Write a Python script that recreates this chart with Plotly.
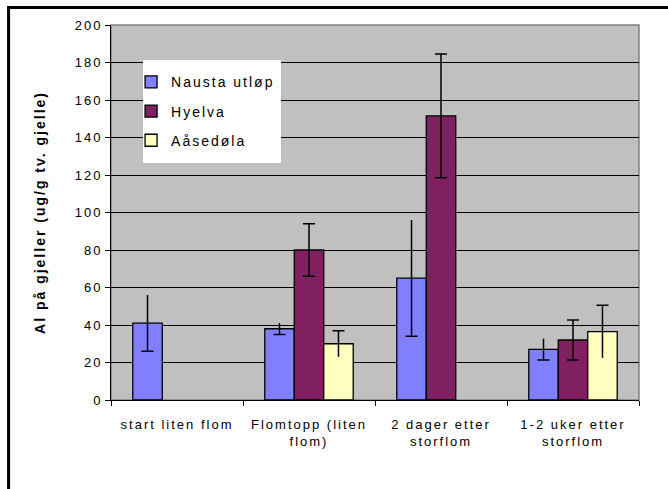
import plotly.graph_objects as go

# categories (x axis) and series values
categories = ['start liten flom', 'Flomtopp (liten<br>flom)', '2 dager etter<br>storflom', '1-2 uker etter<br>storflom']

nausta = [41, 38, 65, 27]
nausta_err = [15, 3, 31, 5.7]

hyelva = [None, 80, 151.5, 32]
hyelva_err = [None, 14, 33, 10.7]

aasedola = [None, 30, None, 36.5]
aasedola_err = [None, 7, None, 14]

series_names = ['Nausta utløp', 'Hyelva', 'Aåsedøla']
colors = ['#8080FF', '#802060', '#FFFFC0']

fig = go.Figure()

# main bars
for i, (name, vals, errs) in enumerate(zip(series_names, [nausta, hyelva, aasedola],
                                           [nausta_err, hyelva_err, aasedola_err])):
    fig.add_trace(go.Bar(
        x=categories, y=vals, name=name,
        offsetgroup=str(i), legendgroup=str(i),
        marker=dict(color=colors[i], line=dict(color='black', width=1.3)),
        error_y=dict(type='data', array=errs, visible=True, color='black',
                     thickness=1.5, width=6 if i == 1 else 0),
    ))

# caps: Nausta only at the lower end, Aåsedøla only at the upper end (as in the original)
low_caps = [None if v is None else v - e for v, e in zip(nausta, nausta_err)]
high_caps = [None if v is None else v + e for v, e in zip(aasedola, aasedola_err)]
for grp, caps in [('0', low_caps), ('2', high_caps)]:
    fig.add_trace(go.Bar(
        x=categories, y=caps, offsetgroup=grp, showlegend=False, hoverinfo='skip',
        marker=dict(color='rgba(0,0,0,0)', line=dict(width=0)),
        error_y=dict(type='data', array=[0] * len(caps), visible=True, color='black',
                     thickness=1.5, width=6),
    ))

fig.update_layout(
    width=668, height=489, autosize=False,
    margin=dict(l=111, r=29, t=25, b=89),
    paper_bgcolor='white',
    plot_bgcolor='#C0C0C0',
    barmode='group', bargap=0.33, bargroupgap=0,
    font=dict(family='Liberation Sans, Arial', size=13, color='black'),
    showlegend=True,
    legend=dict(x=0.038, y=0.89, xanchor='left', yanchor='top',
                bgcolor='rgba(0,0,0,0)', font=dict(size=14), tracegroupgap=8),
    shapes=[
        # white legend box
        dict(type='rect', xref='paper', yref='paper', x0=0.0606, x1=0.322, y0=0.632, y1=0.9067,
             fillcolor='white', line=dict(width=0), layer='above'),
        # plot area border
        dict(type='rect', xref='paper', yref='paper', x0=0, x1=1, y0=0, y1=1,
             line=dict(color='#808080', width=1.5), layer='below'),
        # outer chart frame
        dict(type='rect', xref='paper', yref='paper', x0=-0.194, x1=1.2, y0=-0.4, y1=1.0467,
             line=dict(color='black', width=3), fillcolor='rgba(0,0,0,0)'),
    ],
)
fig.update_yaxes(
    range=[0, 200], dtick=20, showgrid=True, gridcolor='black', gridwidth=1,
    showline=True, linecolor='black', linewidth=1, ticks='outside', ticklen=5,
    tickcolor='black', zeroline=False,
    title=dict(text='<b>Al på gjeller (ug/g tv. gjelle)</b>', font=dict(size=14), standoff=31),
)
fig.update_xaxes(
    showline=True, linecolor='black', linewidth=1, ticks='outside', ticklen=5,
    tickcolor='black', tickson='boundaries', showgrid=False, ticklabelstandoff=12,
)

# Excel-like spaced lettering, no page margin, legend text not clipped
post = ("var s=document.createElement('style');"
        "s.innerHTML='body{margin:0}.main-svg text{letter-spacing:2px}"
        ".main-svg .legend *{clip-path:none !important}';"
        "document.head.appendChild(s);")
fig.write_html('out.html', post_script=post, config={'displayModeBar': False})
